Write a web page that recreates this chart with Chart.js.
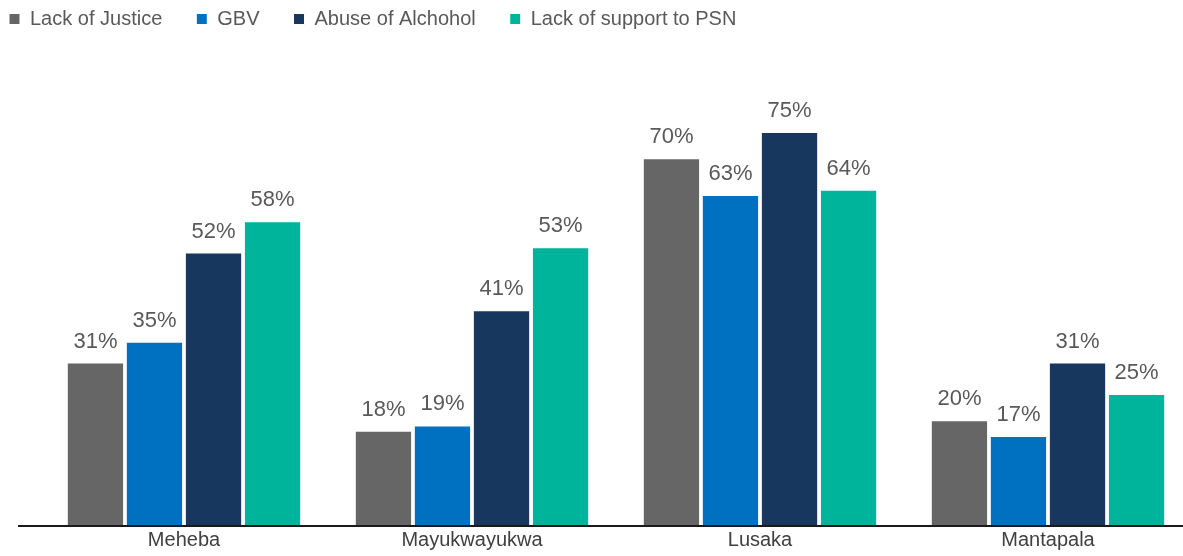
<!DOCTYPE html>
<html>
<head>
<meta charset="utf-8">
<script src="https://cdn.jsdelivr.net/npm/chart.js@4.4.1/dist/chart.umd.min.js"></script>
<style>
  html, body { margin: 0; padding: 0; background: #fff; overflow: hidden; }
  #wrap { position: relative; width: 1192px; height: 556px; }
</style>
</head>
<body>
<div id="wrap"><canvas id="myChart"></canvas></div>
<script>
// camps and problem categories
const camps = ['Meheba', 'Mayukwayukwa', 'Lusaka', 'Mantapala'];
const lackOfJustice = [31, 18, 70, 20];
const gbv = [35, 19, 63, 17];
const abuseOfAlcohol = [52, 41, 75, 31];
const lackOfSupportPSN = [58, 53, 64, 25];

const textColor = '#595959';
const fontFamily = '"Liberation Sans", Arial, sans-serif';

// percent labels above each bar
const barLabels = {
  id: 'barLabels',
  afterDatasetsDraw(chart) {
    const ctx = chart.ctx;
    ctx.save();
    ctx.font = '22px ' + fontFamily;
    ctx.fillStyle = textColor;
    ctx.textAlign = 'center';
    ctx.textBaseline = 'alphabetic';
    chart.data.datasets.forEach((ds, i) => {
      chart.getDatasetMeta(i).data.forEach((bar, j) => {
        ctx.fillText(ds.data[j] + '%', bar.x, bar.y - 15);
      });
    });
    ctx.restore();
  }
};

// base line under the bars
const baseLine = {
  id: 'baseLine',
  afterDatasetsDraw(chart) {
    const ctx = chart.ctx;
    const y = chart.scales.y.getPixelForValue(0);
    ctx.save();
    ctx.strokeStyle = '#1a1a1a';
    ctx.lineWidth = 2;
    ctx.beginPath();
    ctx.moveTo(18, y + 1);
    ctx.lineTo(chart.width, y + 1);
    ctx.stroke();
    ctx.restore();
  }
};

// pull the legend up into the top-left corner
const legendShift = {
  id: 'legendShift',
  afterLayout(chart) {
    chart.legend.left -= 25;
    chart.legend.top -= 25;
  }
};

const data = {
  labels: camps,
  datasets: [
    { label: 'Lack of Justice', data: lackOfJustice, backgroundColor: '#666666' },
    { label: 'GBV', data: gbv, backgroundColor: '#0070C0' },
    { label: 'Abuse of Alchohol', data: abuseOfAlcohol, backgroundColor: '#17375E' },
    { label: 'Lack of support to PSN', data: lackOfSupportPSN, backgroundColor: '#00B39B' }
  ]
};

data.datasets.forEach(ds => {
  ds.borderColor = '#ffffff';
  ds.borderWidth = 1;
  ds.categoryPercentage = 0.82;
  ds.barPercentage = 0.97;
});

const config = {
  type: 'bar',
  data,
  plugins: [barLabels, baseLine, legendShift],
  options: {
    responsive: true,
    maintainAspectRatio: false,
    animation: false,
    layout: { padding: 0 },
    plugins: {
      tooltip: { enabled: false },
      legend: {
        position: 'top',
        align: 'start',
        labels: {
          boxWidth: 11,
          boxHeight: 11,
          padding: 34,
          color: textColor,
          font: { size: 20, family: fontFamily }
        }
      }
    },
    scales: {
      x: {
        grid: { display: false, drawTicks: false },
        border: { display: false },
        ticks: {
          color: '#404040',
          padding: 3.5,
          font: { size: 20, family: fontFamily }
        }
      },
      y: {
        min: 0,
        max: 88,
        grid: { display: false, drawTicks: false },
        border: { display: false },
        ticks: { display: false },
        afterFit(scale) { scale.width = 40; }
      }
    }
  }
};

var chart = document.querySelector('#myChart');
var myChart = new Chart(chart, config);
</script>
</body>
</html>
